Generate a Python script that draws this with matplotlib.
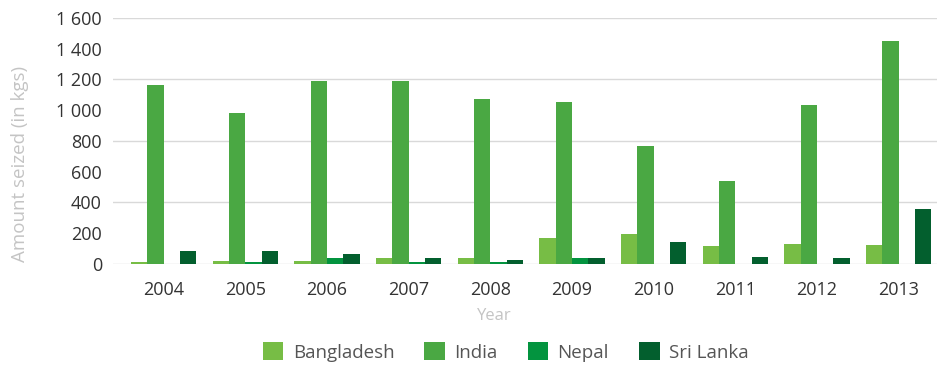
import matplotlib.pyplot as plt
import numpy as np

plt.rcParams['font.family'] = ['Open Sans', 'DejaVu Sans']

# data
years = ['2004', '2005', '2006', '2007', '2008', '2009', '2010', '2011', '2012', '2013']
bangladesh = [15, 22, 22, 36, 36, 169, 195, 117, 130, 124]
india = [1164, 982, 1188, 1188, 1073, 1053, 767, 540, 1034, 1450]
nepal = [0, 12, 36, 12, 15, 39, 0, 0, 0, 0]
sri_lanka = [85, 85, 65, 39, 26, 39, 143, 45, 39, 357]

series = [('Bangladesh', bangladesh, '#77bd45'),
          ('India', india, '#4aa843'),
          ('Nepal', nepal, '#03943f'),
          ('Sri Lanka', sri_lanka, '#035f2e')]

fig = plt.figure(figsize=(9.45, 3.69), dpi=100)
ax = fig.add_axes([0.1196, 0.2846, 0.872, 0.6667])

x = np.arange(len(years))
w = 0.2
for i, (name, vals, col) in enumerate(series):
    ax.bar(x + (i - 1.5) * w, vals, w, color=col, label=name, zorder=3)

ax.set_ylim(0, 1600)
ax.set_xlim(-0.62, len(years) - 0.53)
ax.set_yticks(np.arange(0, 1601, 200))
ax.set_yticklabels(['{:,}'.format(v).replace(',', ' ') for v in range(0, 1601, 200)])
ax.set_xticks(x)
ax.set_xticklabels(years)

# gridlines only every 400
for v in range(0, 1601, 400):
    ax.axhline(v, color='#d9d9d9', lw=1, zorder=1)

for s in ax.spines.values():
    s.set_visible(False)
ax.tick_params(length=0, labelsize=13, colors='#333333')
ax.tick_params(axis='x', pad=12)
ax.tick_params(axis='y', pad=8)

fig.text(0.021, 0.556, 'Amount seized (in kgs)', rotation=90, color='#c4c4c4',
         fontsize=13.5, ha='center', va='center')
fig.text(0.523, 0.144, 'Year', color='#c4c4c4', fontsize=12, ha='center', va='center')

h, l = ax.get_legend_handles_labels()
fig.legend(h, l, loc='center', bbox_to_anchor=(0.535, 0.046), ncol=4, frameon=False,
           fontsize=13.5, labelcolor='#555555', handlelength=1.1, handleheight=1.1,
           columnspacing=1.6, handletextpad=0.5)

fig.savefig('out.png', dpi=100)
